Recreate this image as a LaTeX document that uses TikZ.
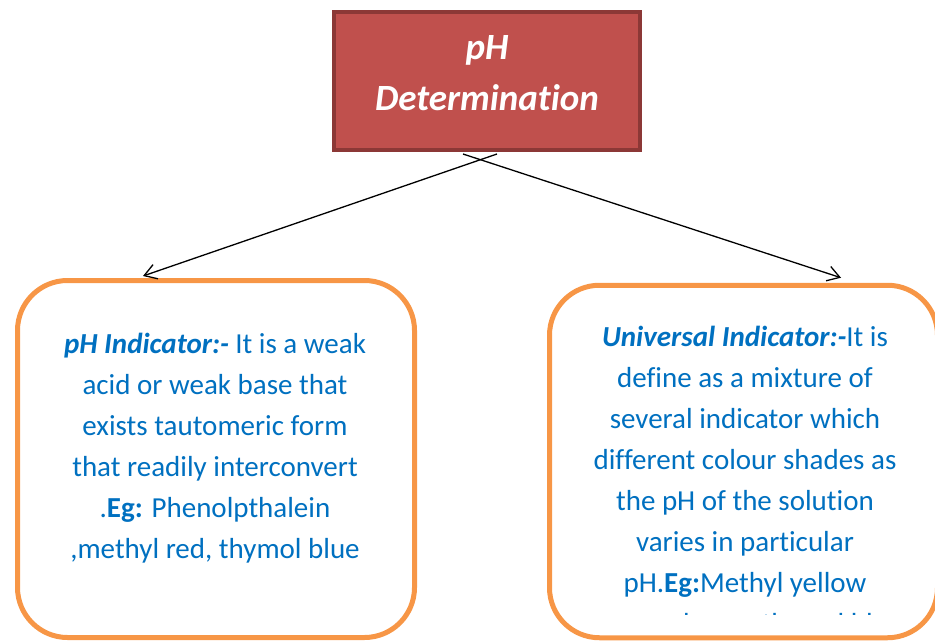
\documentclass[tikz,border=0pt]{standalone}
\usepackage{fontspec}
\setmainfont{Carlito}[Ligatures={NoCommon,NoContextual}]
\usetikzlibrary{positioning,calc,arrows.meta}
\definecolor{headfill}{HTML}{C0504D}
\definecolor{headline}{HTML}{8C3836}
\definecolor{boxline}{HTML}{F79646}
\definecolor{textblue}{HTML}{0070C0}

\begin{document}
\begin{tikzpicture}[x=1pt, y=-1pt,
    head/.style={rectangle, draw=headline, fill=headfill, line width=4pt, minimum width=306pt, minimum height=138pt, inner sep=0pt, align=center, text=white, font=\fontsize{37}{51}\selectfont\bfseries\itshape},
    info/.style={rectangle, rounded corners=50pt, draw=boxline, line width=5pt, inner sep=0pt},
    infotext/.style={anchor=north, align=center, inner sep=0pt, text=textblue, font=\fontsize{29}{41}\selectfont},
    link/.style={-{Straight Barb[length=12pt, width=15pt]}, line width=1.3pt}]
    \path[use as bounding box] (0,0) rectangle (935,642);
    \clip (0,0) rectangle (935,642);

    \node [head, text depth=15pt] (phdet) at (487,81) {pH\\ Determination};

    \node [info, minimum width=397pt, minimum height=357pt] (phind) at (216,459) {};
    \node [info, minimum width=388pt, minimum height=352.5pt] (univ) at (743.5,461.5) {};

    \node [infotext] (phindtext) at (215,333) {
        \textbf{\textit{pH Indicator:-}} It is a weak \\
        acid or weak base that \\
        exists tautomeric form \\
        that readily interconvert \\
        .\textbf{Eg:} Phenolpthalein \\
        ,methyl red, thymol blue
    };

    % text runs past the bottom of the box
    \begin{scope}
        \clip (549,290) rectangle (935,614);
        \node [infotext] (univtext) at (745,326) {
            \textbf{\textit{Universal Indicator:-}}It is \\
            define as a mixture of \\
            several indicator which \\
            different colour shades as \\
            the pH of the solution \\
            varies in particular \\
            pH.\textbf{Eg:}Methyl yellow \\
            orange, bromothymol blue
        };
    \end{scope}

    \draw [link] ($(phdet.south)+(10,2)$) -- ($(phind.north)+(-73,-2)$);
    \draw [link] ($(phdet.south)+(-24,2)$) -- ($(univ.north)+(97.5,-5)$);
\end{tikzpicture}
\end{document}
